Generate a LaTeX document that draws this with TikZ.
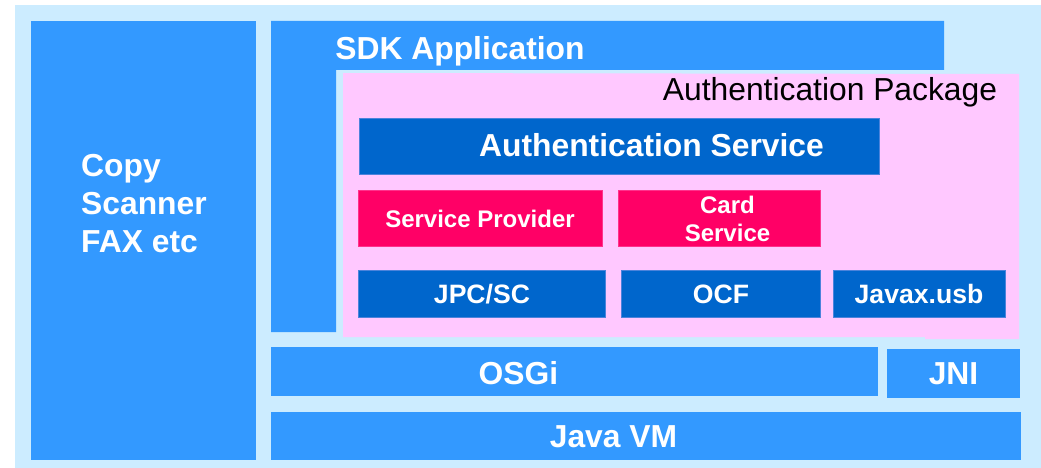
\documentclass[tikz,border=0pt]{standalone}
\usepackage{fontspec}
\setmainfont{Liberation Sans}
\definecolor{bgblue}{HTML}{CCECFF}
\definecolor{midblue}{HTML}{3399FF}
\definecolor{darkblue}{HTML}{0066CC}
\definecolor{pkgpink}{HTML}{FFC8FF}
\definecolor{hotred}{HTML}{FF0066}
\newcommand{\areabox}[6]{% name, x0,y0,x1,y1, style
  \pgfmathsetmacro{\bw}{#4-#2}\pgfmathsetmacro{\bh}{#5-#3}
  \node[#6,minimum width=\bw pt,minimum height=\bh pt] (#1) at ({(#2+#4)/2},{(#3+#5)/2}) {};}
\begin{document}
\begin{tikzpicture}[x=1pt,y=-1pt,
  area/.style={inner sep=0pt,outer sep=0pt,draw=none},
  midbox/.style={area,fill=midblue},
  darkbox/.style={area,fill=darkblue,draw=darkblue!70!pkgpink,line width=0.4pt},
  redbox/.style={area,fill=hotred,draw=hotred!75!pkgpink,line width=0.4pt},
  lab/.style={anchor=base,inner sep=0pt,text=white,font=\bfseries\fontsize{#1}{#1}\selectfont},
]
\useasboundingbox (0,0) rectangle (1041,468);
\fill[white] (0,0) rectangle (1041,468);
\areabox{bg}{15}{5}{1041}{468}{area,fill=bgblue}
\areabox{copy}{31}{21}{256}{460}{midbox}
% SDK Application: an L-shaped block
\fill[midblue] (271,21) -- (944,21) -- (944,70) -- (336,70) -- (336,332) -- (271,332) -- cycle;
% Authentication Package
\fill[pkgpink] (343,73) -- (1019,74) -- (1019,339) -- (925,339) -- (925,337) -- (343,337) -- cycle;
\areabox{authsvc}{359.5}{118.5}{879.5}{174.5}{darkbox}
\areabox{provider}{358.5}{190.5}{602}{246.5}{redbox}
\areabox{card}{618.5}{190.5}{820.5}{246.5}{redbox}
\areabox{jpc}{358.5}{270.5}{605.5}{317}{darkbox}
\areabox{ocf}{621}{270.5}{820.5}{317}{darkbox}
\areabox{usb}{833}{270.5}{1005}{317}{darkbox}
\areabox{osgi}{271}{347}{878}{396}{midbox}
\areabox{jni}{887}{349}{1020}{398}{midbox}
\areabox{jvm}{271}{412}{1021}{460}{midbox}
% labels
\node[lab=31.8,anchor=base west] (tcopy) at (81,176.7) {Copy};
\node[lab=31.8,anchor=base west] (tscan) at (81,214.2) {Scanner};
\node[lab=31.8,anchor=base west] (tfax) at (81,252.7) {FAX etc};
\node[lab=31.8] (tsdk) at (460,59.7) {SDK Application};
\node[lab=32,text=black,font=\fontsize{31.8}{32}\selectfont] (tpkg) at (830,100.2) {Authentication Package};
\node[lab=31.8] (tauth) at (651.5,156.2) {Authentication Service};
\node[lab=24] (tprov) at (480,227.7) {Service Provider};
\node[lab=24] (tcard) at (727.5,213.7) {Card};
\node[lab=24] (tcard2) at (727.5,241.7) {Service};
\node[lab=26.6] (tjpc) at (482,303.7) {JPC/SC};
\node[lab=26.6] (tocf) at (721,303.7) {OCF};
\node[lab=26.6] (tusb) at (919,303.7) {Javax.usb};
\node[lab=31.8] (tosgi) at (518.5,384.7) {OSGi};
\node[lab=31.8] (tjni) at (953.5,384.7) {JNI};
\node[lab=31.8] (tjvm) at (613.5,447.7) {Java VM};
\end{tikzpicture}
\end{document}
